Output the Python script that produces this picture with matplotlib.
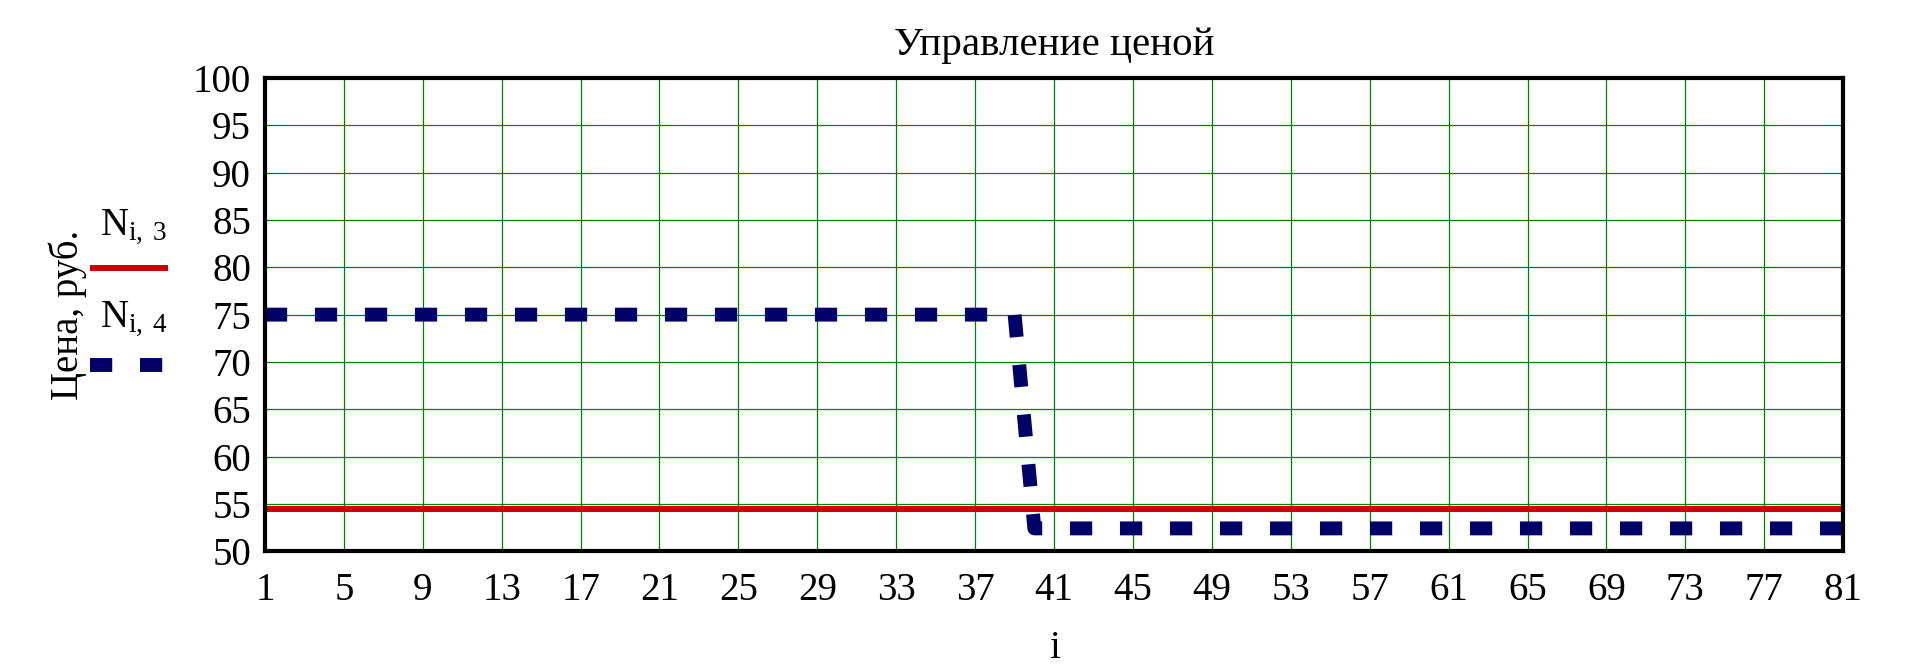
import matplotlib

matplotlib.use("Agg")
import matplotlib.pyplot as plt
from matplotlib.lines import Line2D

plt.rcParams["font.family"] = ["Liberation Serif", "DejaVu Serif"]
plt.rcParams["mathtext.fontset"] = "custom"
plt.rcParams["mathtext.rm"] = "Liberation Serif"

# data
steps = list(range(1, 82))
price_n3 = [
    54.4, 54.4, 54.4, 54.4, 54.4, 54.4, 54.4, 54.4, 54.4, 54.4,
    54.4, 54.4, 54.4, 54.4, 54.4, 54.4, 54.4, 54.4, 54.4, 54.4,
    54.4, 54.4, 54.4, 54.4, 54.4, 54.4, 54.4, 54.4, 54.4, 54.4,
    54.4, 54.4, 54.4, 54.4, 54.4, 54.4, 54.4, 54.4, 54.4, 54.4,
    54.4, 54.4, 54.4, 54.4, 54.4, 54.4, 54.4, 54.4, 54.4, 54.4,
    54.4, 54.4, 54.4, 54.4, 54.4, 54.4, 54.4, 54.4, 54.4, 54.4,
    54.4, 54.4, 54.4, 54.4, 54.4, 54.4, 54.4, 54.4, 54.4, 54.4,
    54.4, 54.4, 54.4, 54.4, 54.4, 54.4, 54.4, 54.4, 54.4, 54.4,
    54.4,
]
price_n4 = [
    75, 75, 75, 75, 75, 75, 75, 75, 75, 75,
    75, 75, 75, 75, 75, 75, 75, 75, 75, 75,
    75, 75, 75, 75, 75, 75, 75, 75, 75, 75,
    75, 75, 75, 75, 75, 75, 75, 75, 75, 52.4,
    52.4, 52.4, 52.4, 52.4, 52.4, 52.4, 52.4, 52.4, 52.4, 52.4,
    52.4, 52.4, 52.4, 52.4, 52.4, 52.4, 52.4, 52.4, 52.4, 52.4,
    52.4, 52.4, 52.4, 52.4, 52.4, 52.4, 52.4, 52.4, 52.4, 52.4,
    52.4, 52.4, 52.4, 52.4, 52.4, 52.4, 52.4, 52.4, 52.4, 52.4,
    52.4,
]
x_ticks = list(range(1, 82, 4))
y_ticks = list(range(50, 101, 5))

RED = "#cc0000"
NAVY = "#000066"
GRID = "#008000"
FS = 28
DASH = (1.6, 2.0)

fig = plt.figure(figsize=(19.24, 6.68), dpi=100)
ax = fig.add_axes([0.1377, 0.175, 0.8203, 0.708])

ax.plot(steps, price_n3, color=RED, lw=4.3, solid_capstyle="butt", zorder=3)
ax.plot(steps, price_n4, color=NAVY, lw=10, linestyle=(0, DASH),
        dash_capstyle="butt", zorder=4)

ax.set_xlim(1, 81)
ax.set_ylim(50, 100)
ax.set_xticks(x_ticks)
ax.set_yticks(y_ticks)
ax.grid(True, color=GRID, lw=0.9)
ax.set_axisbelow(True)
ax.tick_params(length=0, labelsize=FS)
ax.tick_params(axis="x", pad=15)
ax.tick_params(axis="y", pad=10)
for spine in ax.spines.values():
    spine.set_linewidth(3)
    spine.set_color("black")
    spine.set_zorder(5)

ax.set_title("Управление ценой", fontsize=29.5, pad=16.5)
ax.set_xlabel("i", fontsize=FS, labelpad=15)
ax.set_ylabel("Цена, руб.", fontsize=FS)
ax.yaxis.set_label_coords(-0.113, 0.5)

# legend drawn Mathcad-style: label above its line sample
fig.text(100 / 1924, 1 - 234 / 668, r"$\mathregular{N_{i,\,3}}$",
         fontsize=FS, ha="left", va="baseline")
fig.add_artist(Line2D([90 / 1924, 168 / 1924], [1 - 268 / 668, 1 - 268 / 668],
                      color=RED, lw=4.3, solid_capstyle="butt"))
fig.text(100 / 1924, 1 - 326 / 668, r"$\mathregular{N_{i,\,4}}$",
         fontsize=FS, ha="left", va="baseline")
fig.add_artist(Line2D([90 / 1924, 164 / 1924], [1 - 365 / 668, 1 - 365 / 668],
                      color=NAVY, lw=10, linestyle=(0, DASH),
                      dash_capstyle="butt"))

fig.savefig("out.png", dpi=100)
plt.close(fig)
